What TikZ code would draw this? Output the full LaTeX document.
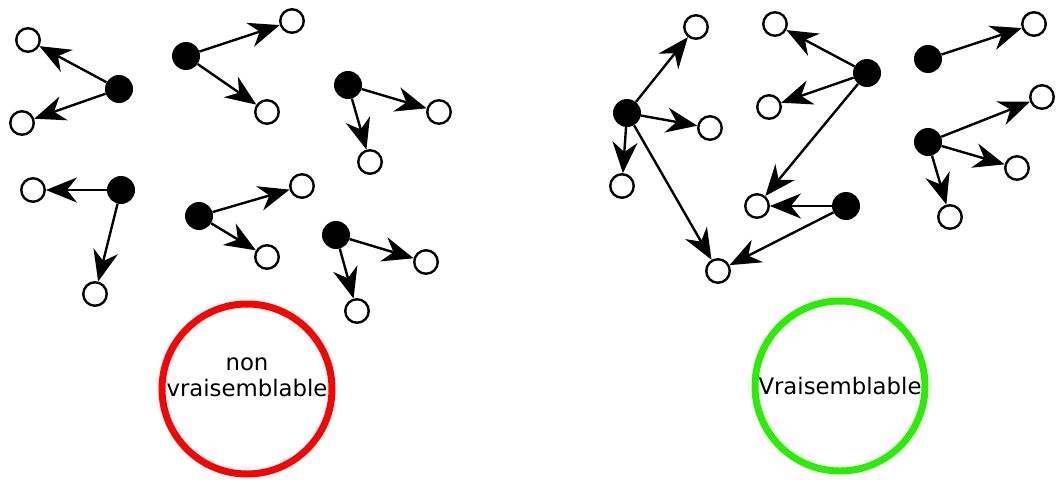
\documentclass[tikz,border=0pt]{standalone}
\usepackage{fontspec}
\setmainfont{DejaVu Sans}
\usetikzlibrary{arrows.meta}
\definecolor{vgreen}{RGB}{40,238,0}
\begin{document}
\begin{tikzpicture}[x=1pt,y=-1pt,
  wn/.style={circle,draw=black,fill=white,line width=2.4pt,minimum size=23.5pt,inner sep=0pt},
  bn/.style={circle,fill=black,minimum size=28pt,inner sep=0pt},
  arr/.style={line width=2.4pt,-{Stealth[length=31pt,width=25pt,inset=10pt]}},
  big/.style={circle,line width=7pt,minimum size=170pt,inner sep=0pt},
  lbl/.style={align=center,inner sep=0pt,font=\fontsize{22.8}{26}\selectfont}]
\useasboundingbox (0,0) rectangle (1056,479);
% left groups
\node[bn] (b1) at (119,89) {};
\node[wn] (w1a) at (28,40) {};
\node[wn] (w1b) at (22,123) {};
\node[bn] (b2) at (186,56) {};
\node[wn] (w2a) at (292,21) {};
\node[wn] (w2b) at (267,112) {};
\node[bn] (b3) at (348,85) {};
\node[wn] (w3a) at (439,112) {};
\node[wn] (w3b) at (370,162) {};
\node[bn] (b4) at (121,190) {};
\node[wn] (w4a) at (33,190) {};
\node[wn] (w4b) at (95,294) {};
\node[bn] (b5) at (199,216) {};
\node[wn] (w5a) at (302,186) {};
\node[wn] (w5b) at (267,257) {};
\node[bn] (b6) at (336,235) {};
\node[wn] (w6a) at (426,262) {};
\node[wn] (w6b) at (357,311) {};
\foreach \s/\t in {b1/w1a,b1/w1b,b2/w2a,b2/w2b,b3/w3a,b3/w3b,b4/w4a,b4/w4b,b5/w5a,b5/w5b,b6/w6a,b6/w6b}
  \draw[arr] (\s) -- (\t);
% right groups
\node[bn] (ba) at (627,113) {};
\node[wn] (wa1) at (696,27) {};
\node[wn] (wa2) at (710,128) {};
\node[wn] (wa3) at (622,186) {};
\node[wn] (wx) at (718,271) {};
\node[bn] (bb) at (867,73) {};
\node[wn] (wb1) at (775,24) {};
\node[wn] (wb2) at (769,107) {};
\node[wn] (wy) at (757,206) {};
\node[bn] (bc) at (846,206) {};
\node[bn] (bd) at (928,59) {};
\node[wn] (wd1) at (1034,24) {};
\node[bn] (be) at (928,142) {};
\node[wn] (we1) at (1042,97) {};
\node[wn] (we2) at (1017,168) {};
\node[wn] (we3) at (950,217) {};
\foreach \s/\t in {ba/wa1,ba/wa2,ba/wa3,ba/wx,bb/wb1,bb/wb2,bb/wy,bc/wy,bc/wx,bd/wd1,be/we1,be/we2,be/we3}
  \draw[arr] (\s) -- (\t);
% big circles
\node[big,draw=red] (nv) at (247,389) {};
\node[lbl] (nvt) at (247,377) {non\\vraisemblable};
\node[big,draw=vgreen] (v) at (840,386) {};
\node[lbl] (vt) at (840,386) {Vraisemblable};
\end{tikzpicture}
\end{document}
